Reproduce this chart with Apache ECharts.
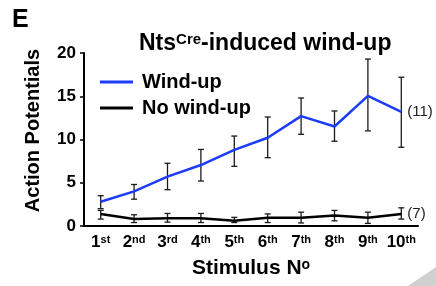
<!DOCTYPE html>
<html><head><meta charset="utf-8">
<script src="https://cdn.jsdelivr.net/npm/echarts@6/dist/echarts.min.js"></script>
<style>html,body{margin:0;padding:0;background:#fff}#c{width:436px;height:286px}</style>
</head><body><div id="c"></div>
<script>
var categories = ['1', '2', '3', '4', '5', '6', '7', '8', '9', '10'];
var suffixes = ['st', 'nd', 'rd', 'th', 'th', 'th', 'th', 'th', 'th', 'th'];
var windUp = [2.8, 4.0, 5.7, 7.05, 8.8, 10.2, 12.7, 11.5, 15.05, 13.2];
var windUpHigh = [3.5, 4.8, 7.25, 8.85, 10.4, 12.6, 14.8, 13.3, 19.3, 17.2];
var windUpLow = [2.0, 3.1, 4.2, 5.2, 6.9, 7.9, 10.6, 9.8, 11.0, 9.1];
var noWindUp = [1.4, 0.8, 0.9, 0.9, 0.6, 0.95, 0.95, 1.2, 0.95, 1.4];
var noWindUpHigh = [1.8, 1.3, 1.45, 1.45, 1.0, 1.4, 1.6, 1.8, 1.6, 2.1];
var noWindUpLow = [0.8, 0.4, 0.45, 0.4, 0.4, 0.4, 0.35, 0.6, 0.3, 0.8];
var yTicks = [0, 5, 10, 15, 20];

var FONT = '"Liberation Sans", Arial, Helvetica, sans-serif';
var chart = echarts.init(document.getElementById('c'), null, {renderer: 'canvas'});

function errData(lo, hi) {
  return categories.map(function (c, i) { return [i, lo[i], hi[i]]; });
}
function errRender(params, api) {
  var x = api.value(0);
  var lo = api.coord([x, api.value(1)]);
  var hi = api.coord([x, api.value(2)]);
  var w = 3;
  var st = {stroke: '#1a1a1a', lineWidth: 1.3};
  return {type: 'group', children: [
    {type: 'line', shape: {x1: hi[0], y1: hi[1], x2: lo[0], y2: lo[1]}, style: st},
    {type: 'line', shape: {x1: hi[0] - w, y1: hi[1], x2: hi[0] + w, y2: hi[1]}, style: st},
    {type: 'line', shape: {x1: lo[0] - w, y1: lo[1], x2: lo[0] + w, y2: lo[1]}, style: st}
  ]};
}

chart.setOption({
  animation: false,
  textStyle: {fontFamily: FONT},
  title: {
    text: '{a|Nts}{b|Cre}{a|-induced wind-up}',
    left: 134, top: 27,
    textStyle: {
      rich: {
        a: {fontSize: 23, fontWeight: 'bold', color: '#000', fontFamily: FONT},
        b: {fontSize: 15, fontWeight: 'bold', color: '#000', fontFamily: FONT, verticalAlign: 'top'}
      }
    }
  },
  graphic: [
    {type: 'text', left: 12, top: 8, style: {text: 'E', font: 'bold 25px ' + FONT, fill: '#000'}},
    {type: 'polygon', shape: {points: [[408, 286], [436, 267], [436, 286]]}, style: {fill: '#d0d0d0'}, silent: true}
  ],
  legend: {
    orient: 'vertical', left: 95, top: 67,
    icon: 'rect', itemWidth: 33, itemHeight: 3, itemGap: 6,
    data: [
      {name: 'Wind-up', itemStyle: {color: '#1c3cfa'}},
      {name: 'No wind-up', itemStyle: {color: '#000'}}
    ],
    textStyle: {fontSize: 20, fontWeight: 'bold', color: '#000', fontFamily: FONT, padding: [0, 0, 0, 4]}
  },
  grid: {left: 84, right: 18, top: 53, bottom: 60},
  xAxis: {
    type: 'category', data: categories, boundaryGap: true,
    name: '{n|Stimulus N}{s|o}', nameLocation: 'middle', nameGap: 32,
    nameTextStyle: {
      rich: {
        n: {fontSize: 21, fontWeight: 'bold', color: '#000', fontFamily: FONT},
        s: {fontSize: 14, fontWeight: 'bold', color: '#000', fontFamily: FONT, verticalAlign: 'top'}
      }
    },
    axisLine: {lineStyle: {color: '#000', width: 2}},
    axisTick: {show: false},
    axisLabel: {
      margin: 8, interval: 0, hideOverlap: false,
      formatter: function (v, i) { return '{n|' + v + '}{s|' + suffixes[i] + '}'; },
      rich: {
        n: {fontSize: 17, fontWeight: 'bold', color: '#000', fontFamily: FONT},
        s: {fontSize: 11, fontWeight: 'bold', color: '#000', fontFamily: FONT, verticalAlign: 'top'}
      }
    }
  },
  yAxis: {
    type: 'value', min: 0, max: 20, interval: 5,
    name: 'Action Potentials', nameLocation: 'middle', nameGap: 41,
    nameTextStyle: {fontSize: 20, fontWeight: 'bold', color: '#000', fontFamily: FONT, padding: [0, 0, 0, 18]},
    axisLine: {show: true, lineStyle: {color: '#000', width: 2}},
    axisTick: {show: true, length: 4, lineStyle: {color: '#000', width: 1.5}},
    splitLine: {show: false},
    axisLabel: {
      margin: 8, fontSize: 17, fontWeight: 'bold', color: '#000', fontFamily: FONT,
      formatter: function (v) { return yTicks.indexOf(v) >= 0 ? String(v) : ''; }
    }
  },
  series: [
    {type: 'custom', name: 'errWind', renderItem: errRender, data: errData(windUpLow, windUpHigh), z: 2},
    {type: 'custom', name: 'errNo', renderItem: errRender, data: errData(noWindUpLow, noWindUpHigh), z: 2},
    {
      type: 'line', name: 'Wind-up', data: windUp, symbol: 'none', z: 3,
      lineStyle: {color: '#1c3cfa', width: 2.5}, itemStyle: {color: '#1c3cfa'},
      endLabel: {show: true, formatter: '(11)', distance: 6, fontSize: 15, color: '#222', fontFamily: FONT}
    },
    {
      type: 'line', name: 'No wind-up', data: noWindUp, symbol: 'none', z: 3,
      lineStyle: {color: '#000', width: 2.5}, itemStyle: {color: '#000'},
      endLabel: {show: true, formatter: '(7)', distance: 6, fontSize: 15, color: '#222', fontFamily: FONT}
    }
  ]
});
</script></body></html>
